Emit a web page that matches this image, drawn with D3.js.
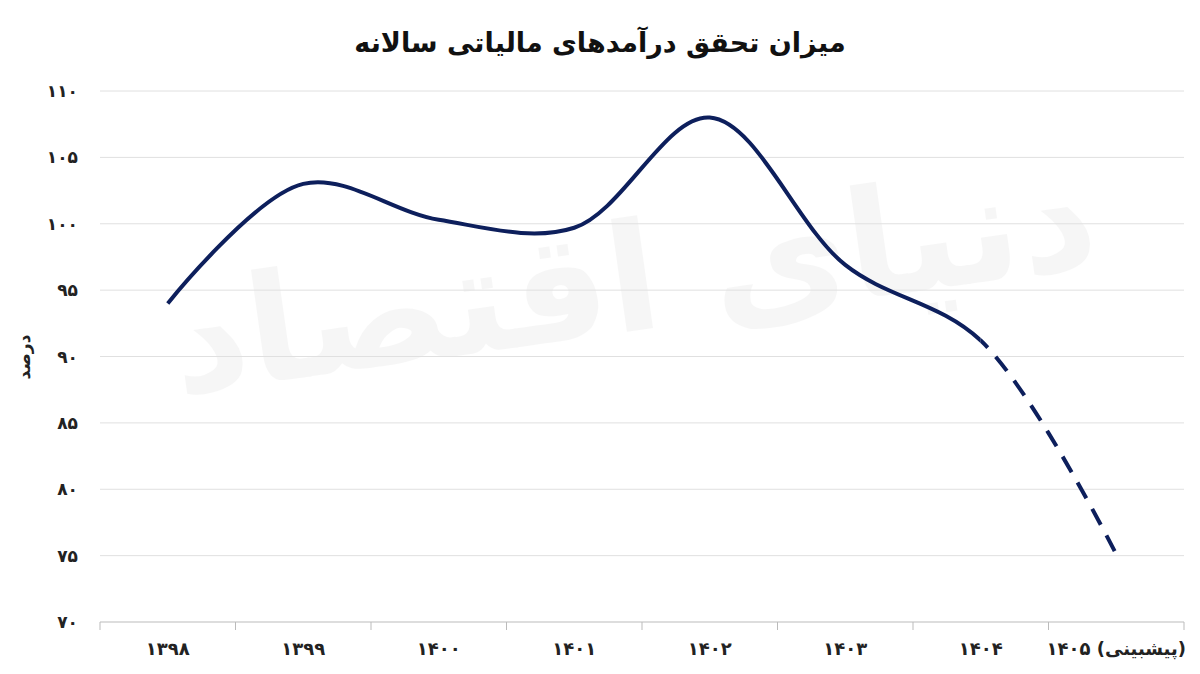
<!DOCTYPE html>
<html><head><meta charset="utf-8">
<script src="https://cdn.jsdelivr.net/npm/d3@7"></script>
<style>body{margin:0;background:#fff;font-family:"DejaVu Sans",sans-serif}</style>
</head><body><svg id="c" width="1200" height="674"></svg>
<script>
const categories=["۱۳۹۸","۱۳۹۹","۱۴۰۰","۱۴۰۱","۱۴۰۲","۱۴۰۳","۱۴۰۴","۱۴۰۵ (پیشبینی)"];
const values=[94.0,103.0,100.3,99.7,108.0,96.9,91.2,75.1];
const yTicks=[70,75,80,85,90,95,100,105,110];
const fa=n=>String(n).replace(/\d/g,d=>"۰۱۲۳۴۵۶۷۸۹"[d]);
const svg=d3.select("#c");
const x=d3.scaleBand().domain(categories).range([100,1184]);
const y=d3.scaleLinear().domain([70,110]).range([622,91]);
svg.append("text").attr("x",600).attr("y",52).attr("text-anchor","middle").attr("font-size",27).attr("font-weight","bold").attr("fill","#111").text("میزان تحقق درآمدهای مالیاتی سالانه");
svg.append("text").attr("transform","translate(640,330) rotate(-8)").attr("text-anchor","middle").attr("font-size",150).attr("font-weight","bold").attr("fill","#000").attr("opacity",0.03).text("دنیای اقتصاد");
yTicks.forEach(t=>{
 svg.append("line").attr("x1",100).attr("x2",1184).attr("y1",y(t)).attr("y2",y(t)).attr("stroke",t==70?"#bbb":"#e0e0e0");
 svg.append("text").attr("x",78).attr("y",y(t)+6).attr("text-anchor","end").attr("font-size",17).attr("font-weight","bold").attr("fill","#222").text(fa(t));
});
categories.forEach((c,i)=>{
 svg.append("line").attr("x1",x(c)).attr("x2",x(c)).attr("y1",622).attr("y2",630).attr("stroke","#bbb");
 svg.append("text").attr("x",x(c)+x.bandwidth()/2).attr("y",655).attr("text-anchor","middle").attr("font-size",18).attr("font-weight","bold").attr("fill","#222").text(c);
});
svg.append("line").attr("x1",1184).attr("x2",1184).attr("y1",622).attr("y2",630).attr("stroke","#bbb");
svg.append("text").attr("transform","translate(30,357) rotate(-90)").attr("text-anchor","middle").attr("font-size",17).attr("font-weight","bold").attr("fill","#222").text("درصد");
const pts=values.map((v,i)=>[x(categories[i])+x.bandwidth()/2,y(v)]);
const cut=pts[6][0];
const defs=svg.append("defs");
defs.append("clipPath").attr("id","cA").append("rect").attr("x",0).attr("y",0).attr("width",cut).attr("height",674);
defs.append("clipPath").attr("id","cB").append("rect").attr("x",cut).attr("y",0).attr("width",1200-cut).attr("height",674);
const d=d3.line().curve(d3.curveCatmullRom.alpha(0.5))(pts);
svg.append("path").attr("d",d).attr("clip-path","url(#cA)").attr("fill","none").attr("stroke","#0d1f5c").attr("stroke-width",4);
svg.append("path").attr("d",d).attr("clip-path","url(#cB)").attr("fill","none").attr("stroke","#0d1f5c").attr("stroke-width",4).attr("stroke-dasharray","18,12").attr("stroke-dashoffset",-2);
</script></body></html>
